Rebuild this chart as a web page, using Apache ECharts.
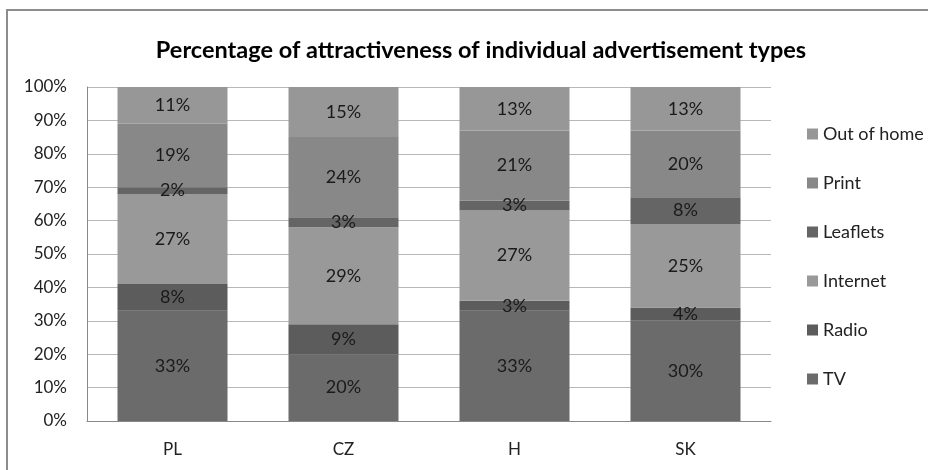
<!DOCTYPE html>
<html><head><meta charset="utf-8">
<script src="https://cdn.jsdelivr.net/npm/echarts@6/dist/echarts.min.js"></script>
<style>html,body{margin:0;padding:0;background:#fff;}#c{width:928px;height:470px;}</style>
</head><body><div id="c"></div>
<script>
const categories = ['PL', 'CZ', 'H', 'SK'];
const seriesNames = ['TV', 'Radio', 'Internet', 'Leaflets', 'Print', 'Out of home'];
const tv        = [33, 20, 33, 30];
const radio     = [8, 9, 3, 4];
const internet  = [27, 29, 27, 25];
const leaflets  = [2, 3, 3, 8];
const print     = [19, 24, 21, 20];
const outOfHome = [11, 15, 13, 13];
const values = [tv, radio, internet, leaflets, print, outOfHome];
const colors = ['#6b6b6b', '#5c5c5c', '#999999', '#656565', '#888888', '#979797'];
const font = 'Lato, "Open Sans", sans-serif';

const chart = echarts.init(document.getElementById('c'));
chart.setOption({
  animation: false,
  title: {
    text: 'Percentage of attractiveness of individual advertisement types',
    left: 476, top: 33, textAlign: 'center',
    textStyle: { fontFamily: font, fontSize: 23.5, fontWeight: 'bold', color: '#000' }
  },
  graphic: [{
    type: 'rect', shape: { x: 7, y: 10, width: 1000, height: 600 },
    style: { fill: 'none', stroke: '#8c8c8c', lineWidth: 2 }, silent: true
  }],
  legend: {
    orient: 'vertical', left: 802, top: 120,
    itemWidth: 11, itemHeight: 11, itemGap: 31,
    data: seriesNames.slice().reverse(),
    textStyle: { fontFamily: font, fontSize: 18, color: '#222', lineHeight: 18 },
    icon: 'rect'
  },
  grid: { left: 87, right: 157, top: 87, bottom: 49 },
  xAxis: {
    type: 'category', data: categories,
    axisLine: { lineStyle: { color: '#888' } },
    axisTick: { show: false },
    axisLabel: { fontFamily: font, fontSize: 17, color: '#222', margin: 20 }
  },
  yAxis: {
    type: 'value', min: 0, max: 100, interval: 10,
    axisLine: { show: true, lineStyle: { color: '#888' } },
    axisTick: { show: false },
    splitLine: { lineStyle: { color: '#b8b8b8' } },
    axisLabel: { fontFamily: font, fontSize: 17, color: '#222', margin: 20, formatter: '{value}%' }
  },
  series: seriesNames.map((n, i) => ({
    name: n, type: 'bar', stack: 'all', data: values[i],
    barWidth: 110,
    itemStyle: { color: colors[i] },
    label: {
      show: true, position: 'inside', formatter: '{c}%',
      fontFamily: font, fontSize: 18, color: '#1a1a1a'
    }
  }))
});
</script></body></html>
